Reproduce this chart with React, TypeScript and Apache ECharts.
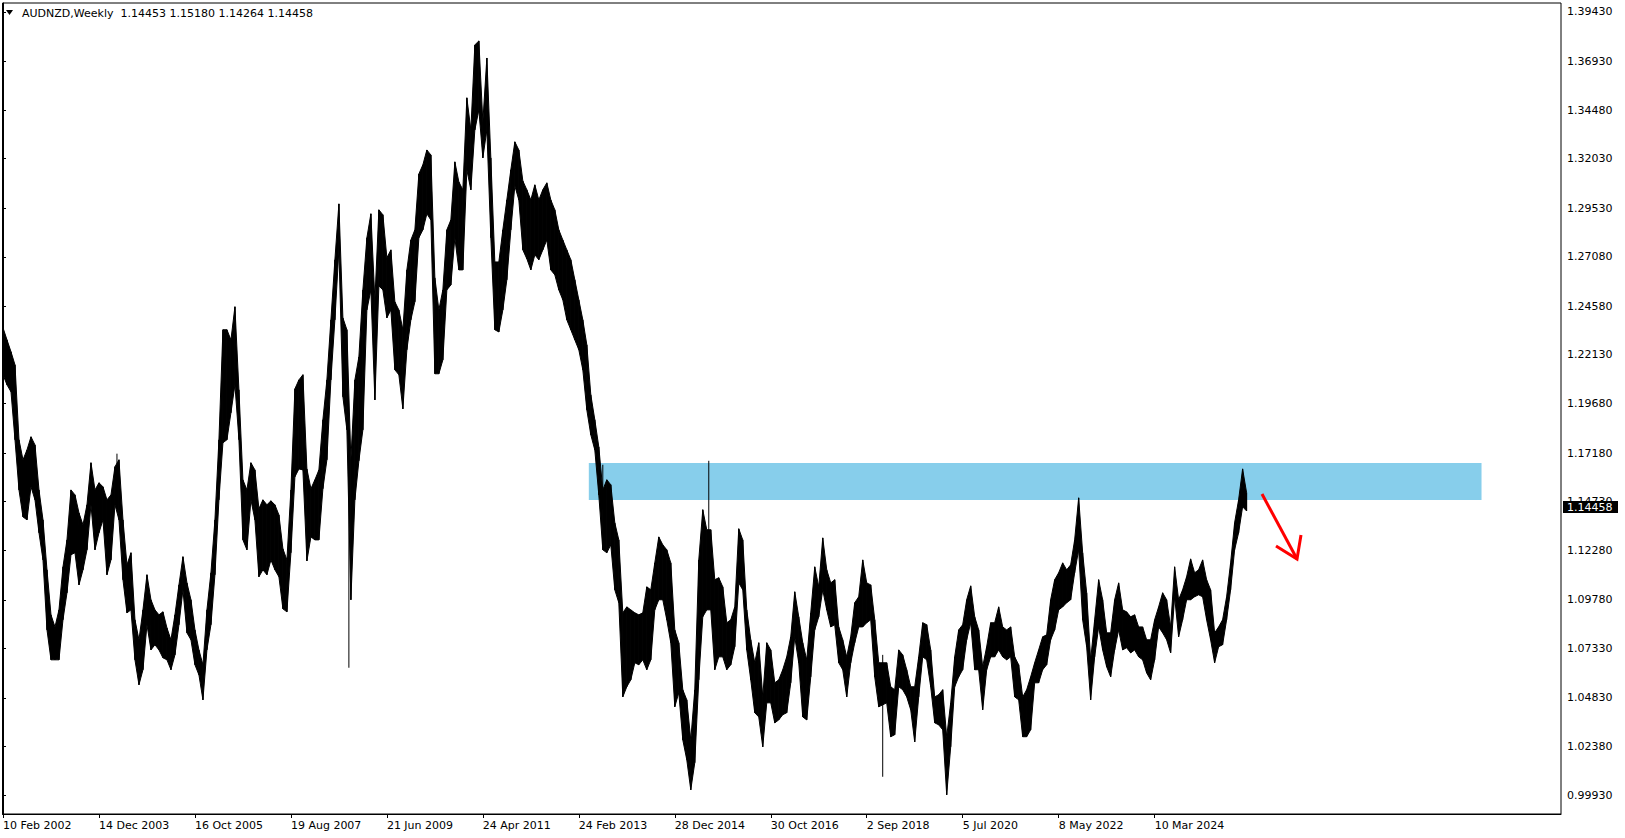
import React, { useEffect, useRef } from "react";
import * as echarts from "echarts";

const symbolName = "AUDNZD,Weekly";
const headerQuote = [1.14453, 1.1518, 1.14264, 1.14458];
const lastPrice = 1.14458;

const yTickLabels = [
  1.3943, 1.3693, 1.3448, 1.3203, 1.2953, 1.2708, 1.2458, 1.2213, 1.1968,
  1.1718, 1.1473, 1.1228, 1.0978, 1.0733, 1.0483, 1.0238, 0.9993,
];

const dateLabels = [
  "10 Feb 2002", "14 Dec 2003", "16 Oct 2005", "19 Aug 2007", "21 Jun 2009",
  "24 Apr 2011", "24 Feb 2013", "28 Dec 2014", "30 Oct 2016", "2 Sep 2018",
  "5 Jul 2020", "8 May 2022", "10 Mar 2024",
];
const dateTickWeeks = [0, 96, 192, 288, 384, 480, 576, 672, 768, 864, 960, 1056, 1152];

// one sample every 4 weekly bars, weeks counted from 10 Feb 2002
const sampleStepWeeks = 4;

const highs = [
  1.2350, 1.2289, 1.2229, 1.2163, 1.1785, 1.1684, 1.1734, 1.1800, 1.1759, 1.1532,
  1.1381, 1.1129, 1.0902, 1.0841, 1.0927, 1.1144, 1.1280, 1.1532, 1.1507, 1.1416,
  1.1356, 1.1457, 1.1669, 1.1532, 1.1568, 1.1548, 1.1482, 1.1507, 1.1649, 1.1684,
  1.1381, 1.1154, 1.1215, 1.0877, 1.0776, 1.0927, 1.1104, 1.0978, 1.0927, 1.0902,
  1.0917, 1.0836, 1.0776, 1.0902, 1.1053, 1.1195, 1.1063, 1.0978, 1.0826, 1.0725,
  1.0650, 1.0927, 1.1114, 1.1381, 1.1785, 1.2340, 1.2340, 1.2289, 1.2456, 1.2037,
  1.1583, 1.1532, 1.1669, 1.1633, 1.1437, 1.1482, 1.1457, 1.1477, 1.1457, 1.1406,
  1.1235, 1.1179, 1.1532, 1.2042, 1.2087, 1.2113, 1.1638, 1.1538, 1.1583, 1.1633,
  1.1886, 1.2087, 1.2390, 1.2693, 1.2975, 1.2400, 1.2340, 1.1684, 1.2087, 1.2203,
  1.2541, 1.2804, 1.2925, 1.2491, 1.2945, 1.2920, 1.2703, 1.2743, 1.2481, 1.2440,
  1.2340, 1.2642, 1.2793, 1.2844, 1.3126, 1.3172, 1.3247, 1.3222, 1.2602, 1.2440,
  1.2541, 1.2844, 1.2894, 1.3187, 1.3086, 1.3046, 1.3510, 1.3348, 1.3777, 1.3797,
  1.3389, 1.3711, 1.3207, 1.2682, 1.2682, 1.2844, 1.2995, 1.3147, 1.3288, 1.3247,
  1.3091, 1.3046, 1.2995, 1.3071, 1.2995, 1.3046, 1.3081, 1.2995, 1.2945, 1.2844,
  1.2793, 1.2743, 1.2693, 1.2592, 1.2491, 1.2390, 1.2264, 1.2012, 1.1886, 1.1749,
  1.1532, 1.1583, 1.1558, 1.1366, 1.1280, 1.0912, 1.0942, 1.0927, 1.0912, 1.0902,
  1.0912, 1.1043, 1.1028, 1.1164, 1.1295, 1.1255, 1.1230, 1.1164, 1.0826, 1.0761,
  1.0524, 1.0473, 1.0271, 1.0524, 1.1179, 1.1432, 1.1331, 1.1331, 1.1079, 1.1089,
  1.1043, 1.0862, 1.0877, 1.0942, 1.1336, 1.1280, 1.0927, 1.0776, 1.0660, 1.0761,
  1.0488, 1.0761, 1.0725, 1.0559, 1.0574, 1.0625, 1.0690, 1.0791, 1.1018, 1.0892,
  1.0761, 1.0675, 1.0912, 1.1144, 1.1043, 1.1290, 1.1129, 1.1063, 1.1079, 1.0841,
  1.0776, 1.0690, 1.0791, 1.0963, 1.0993, 1.1179, 1.1063, 1.1053, 1.0877, 1.0660,
  1.0660, 1.0660, 1.0539, 1.0524, 1.0725, 1.0700, 1.0625, 1.0539, 1.0539, 1.0690,
  1.0862, 1.0852, 1.0725, 1.0488, 1.0499, 1.0524, 1.0287, 1.0458, 1.0690, 1.0826,
  1.0852, 1.0978, 1.1048, 1.0892, 1.0826, 1.0640, 1.0741, 1.0862, 1.0862, 1.0942,
  1.0841, 1.0826, 1.0841, 1.0690, 1.0650, 1.0488, 1.0524, 1.0589, 1.0660, 1.0725,
  1.0791, 1.0801, 1.0978, 1.1079, 1.1114, 1.1164, 1.1129, 1.1154, 1.1280, 1.1492,
  1.1215, 1.1013, 1.0675, 1.0877, 1.1079, 1.0978, 1.0811, 1.0811, 1.0978, 1.1063,
  1.0927, 1.0917, 1.0892, 1.0902, 1.0841, 1.0841, 1.0776, 1.0776, 1.0877, 1.0942,
  1.1013, 1.0978, 1.0841, 1.1144, 1.0978, 1.1028, 1.1094, 1.1184, 1.1114, 1.1129,
  1.1179, 1.1079, 1.1028, 1.0811, 1.0841, 1.0877, 1.0993, 1.1164, 1.1366, 1.1482,
  1.1638, 1.1518,
];

const lows = [
  1.2113, 1.2062, 1.2027, 1.1785, 1.1532, 1.1396, 1.1381, 1.1548, 1.1482, 1.1316,
  1.1179, 1.0826, 1.0675, 1.0675, 1.0675, 1.0877, 1.1013, 1.1205, 1.1215, 1.1053,
  1.1129, 1.1230, 1.1457, 1.1230, 1.1316, 1.1381, 1.1104, 1.1179, 1.1457, 1.1381,
  1.1079, 1.0912, 1.0927, 1.0675, 1.0549, 1.0625, 1.0852, 1.0725, 1.0751, 1.0725,
  1.0685, 1.0675, 1.0625, 1.0700, 1.0852, 1.1028, 1.0811, 1.0776, 1.0650, 1.0599,
  1.0473, 1.0725, 1.0852, 1.1104, 1.1482, 1.1770, 1.1785, 1.1921, 1.2062, 1.1785,
  1.1280, 1.1230, 1.1482, 1.1381, 1.1094, 1.1129, 1.1104, 1.1179, 1.1129, 1.1094,
  1.0932, 1.0917, 1.1215, 1.1598, 1.1638, 1.1633, 1.1174, 1.1295, 1.1280, 1.1280,
  1.1538, 1.1684, 1.2087, 1.2390, 1.2743, 1.2002, 1.1835, 1.0978, 1.1482, 1.1679,
  1.1835, 1.2440, 1.2541, 1.1986, 1.2561, 1.2541, 1.2400, 1.2440, 1.2138, 1.2113,
  1.1941, 1.2239, 1.2390, 1.2481, 1.2804, 1.2844, 1.2925, 1.2894, 1.2118, 1.2118,
  1.2188, 1.2541, 1.2566, 1.2804, 1.2642, 1.2642, 1.3147, 1.3046, 1.3348, 1.3449,
  1.3207, 1.3348, 1.2804, 1.2340, 1.2329, 1.2440, 1.2592, 1.2844, 1.3066, 1.2995,
  1.2743, 1.2698, 1.2642, 1.2718, 1.2693, 1.2743, 1.2793, 1.2642, 1.2617, 1.2541,
  1.2491, 1.2390, 1.2340, 1.2289, 1.2239, 1.2138, 1.1936, 1.1810, 1.1734, 1.1507,
  1.1230, 1.1215, 1.1255, 1.1028, 1.0963, 1.0488, 1.0539, 1.0574, 1.0660, 1.0650,
  1.0675, 1.0625, 1.0675, 1.0927, 1.0978, 1.0978, 1.0877, 1.0761, 1.0438, 1.0509,
  1.0271, 1.0171, 1.0019, 1.0156, 1.0574, 1.0892, 1.0927, 1.0927, 1.0625, 1.0690,
  1.0690, 1.0625, 1.0650, 1.0741, 1.1063, 1.1028, 1.0725, 1.0574, 1.0408, 1.0387,
  1.0236, 1.0458, 1.0458, 1.0357, 1.0372, 1.0398, 1.0408, 1.0559, 1.0791, 1.0660,
  1.0387, 1.0372, 1.0589, 1.0826, 1.0892, 1.1028, 1.0927, 1.0841, 1.0852, 1.0660,
  1.0625, 1.0488, 1.0660, 1.0761, 1.0841, 1.0841, 1.0862, 1.0877, 1.0589, 1.0438,
  1.0448, 1.0458, 1.0287, 1.0297, 1.0539, 1.0524, 1.0488, 1.0423, 1.0261, 1.0488,
  1.0690, 1.0675, 1.0539, 1.0357, 1.0347, 1.0322, 0.9994, 1.0236, 1.0539, 1.0589,
  1.0625, 1.0776, 1.0862, 1.0625, 1.0625, 1.0423, 1.0625, 1.0690, 1.0690, 1.0725,
  1.0690, 1.0675, 1.0690, 1.0488, 1.0473, 1.0287, 1.0287, 1.0322, 1.0559, 1.0559,
  1.0625, 1.0650, 1.0776, 1.0826, 1.0927, 1.0942, 1.0963, 1.0978, 1.1114, 1.1230,
  1.0877, 1.0741, 1.0473, 1.0690, 1.0841, 1.0725, 1.0640, 1.0589, 1.0725, 1.0826,
  1.0725, 1.0736, 1.0710, 1.0725, 1.0690, 1.0675, 1.0609, 1.0574, 1.0675, 1.0841,
  1.0811, 1.0776, 1.0710, 1.0993, 1.0791, 1.0877, 1.0978, 1.0978, 1.0993, 1.1003,
  1.0993, 1.0877, 1.0776, 1.0660, 1.0741, 1.0751, 1.0877, 1.1028, 1.1230, 1.1316,
  1.1447, 1.1426,
];

// single-week wicks that stick out of the sampled envelope
const spikeWeeks = [114, 346, 600, 706, 880];
const spikeHighs = [1.1715, 1.1835, 1.1659, 1.1679, 1.07];
const spikeLows = [1.1532, 1.0635, 1.1432, 1.129, 1.0085];

// supply zone rectangle
const zoneStartWeek = 586;
const zoneEndWeek = 1479;
const zoneTop = 1.16682;
const zoneBottom = 1.14816;

const FONT = "DejaVu Sans";

export default function App() {
  const ref = useRef<HTMLDivElement>(null);

  useEffect(() => {
    const el = ref.current;
    if (!el) return;
    const chart = echarts.init(el, undefined, { renderer: "svg" });

    const weeks = highs.map((_, i) => i * sampleStepWeeks);
    const priceData = weeks.map((w, i) => [w, highs[i], lows[i]]);
    const spikeData = spikeWeeks.map((w, i) => [w, spikeHighs[i], spikeLows[i]]);

    chart.setOption({
      animation: false,
      backgroundColor: "#ffffff",
      grid: {
        left: 2,
        top: 3,
        right: 64,
        bottom: 24,
        show: true,
        borderColor: "#000000",
        borderWidth: 1,
        backgroundColor: "transparent",
      },
      xAxis: {
        type: "value",
        min: -0.5,
        max: 1558.5,
        position: "bottom",
        axisLine: { show: true, lineStyle: { color: "#000000", width: 1 } },
        axisTick: {
          show: true,
          customValues: dateTickWeeks,
          length: 4,
          lineStyle: { color: "#000000" },
        },
        axisLabel: {
          customValues: dateTickWeeks,
          formatter: (v: number) => {
            const k = dateTickWeeks.indexOf(Math.round(v));
            return k >= 0 ? dateLabels[k] : "";
          },
          align: "left",
          margin: 6,
          color: "#000000",
          fontFamily: FONT,
          fontSize: 11,
        },
        splitLine: { show: false },
      },
      yAxis: {
        type: "value",
        position: "right",
        min: 0.98972,
        max: 1.39884,
        axisLine: { show: true, lineStyle: { color: "#000000", width: 1 } },
        axisTick: {
          show: true,
          customValues: yTickLabels,
          length: 3,
          lineStyle: { color: "#000000" },
        },
        axisLabel: {
          customValues: yTickLabels,
          formatter: (v: number) => v.toFixed(5),
          margin: 6,
          color: "#000000",
          fontFamily: FONT,
          fontSize: 11,
        },
        splitLine: { show: false },
      },
      series: [
        {
          type: "custom",
          name: "zone",
          z: 1,
          silent: true,
          data: [[zoneStartWeek, zoneTop, zoneEndWeek, zoneBottom]],
          encode: { x: [0, 2], y: [1, 3] },
          renderItem: (_p: any, api: any) => {
            const a = api.coord([api.value(0), api.value(1)]);
            const b = api.coord([api.value(2), api.value(3)]);
            return {
              type: "rect",
              shape: { x: a[0], y: a[1], width: b[0] - a[0], height: b[1] - a[1] },
              style: { fill: "#87CEEB" },
            };
          },
        },
        {
          type: "custom",
          name: "AUDNZD",
          z: 2,
          silent: true,
          clip: true,
          data: priceData,
          encode: { x: 0, y: [1, 2] },
          renderItem: (params: any, api: any) => {
            const i = params.dataIndex;
            const h0 = api.coord([weeks[i], highs[i]]);
            const l0 = api.coord([weeks[i], lows[i]]);
            if (i >= weeks.length - 1) {
              return {
                type: "line",
                shape: { x1: h0[0], y1: h0[1], x2: l0[0], y2: l0[1] },
                style: { stroke: "#000000", lineWidth: 1 },
              };
            }
            const h1 = api.coord([weeks[i + 1], highs[i + 1]]);
            const l1 = api.coord([weeks[i + 1], lows[i + 1]]);
            return {
              type: "polygon",
              shape: { points: [h0, h1, l1, l0] },
              style: { fill: "#000000", stroke: "#000000", lineWidth: 1 },
            };
          },
        },
        {
          type: "custom",
          name: "wicks",
          z: 3,
          silent: true,
          clip: true,
          data: spikeData,
          encode: { x: 0, y: [1, 2] },
          renderItem: (_p: any, api: any) => {
            const a = api.coord([api.value(0), api.value(1)]);
            const b = api.coord([api.value(0), api.value(2)]);
            return {
              type: "line",
              shape: { x1: a[0], y1: a[1], x2: b[0], y2: b[1] },
              style: { stroke: "#000000", lineWidth: 1 },
            };
          },
        },
      ],
    });

    const yPix = chart.convertToPixel({ yAxisIndex: 0 }, lastPrice) as number;
    const headerText = `${symbolName}  ${headerQuote.map((v) => v.toFixed(5)).join(" ")}`;

    chart.setOption({
      graphic: [
        {
          type: "polygon",
          z: 100,
          shape: { points: [[6, 10], [13, 10], [9.5, 15]] },
          style: { fill: "#000000" },
        },
        {
          type: "text",
          z: 100,
          x: 22,
          y: 13,
          style: {
            text: headerText,
            fill: "#000000",
            font: `11px "${FONT}"`,
            verticalAlign: "middle",
            align: "left",
          },
        },
        {
          type: "rect",
          z: 100,
          shape: { x: 1563, y: Math.round(yPix) - 6, width: 55, height: 12 },
          style: { fill: "#000000" },
        },
        {
          type: "text",
          z: 101,
          x: 1567,
          y: Math.round(yPix),
          style: {
            text: lastPrice.toFixed(5),
            fill: "#ffffff",
            font: `11px "${FONT}"`,
            verticalAlign: "middle",
            align: "left",
          },
        },
        {
          type: "polyline",
          z: 100,
          shape: { points: [[1262, 494], [1297, 559]] },
          style: { stroke: "#ff0000", lineWidth: 3, fill: "none" },
        },
        {
          type: "polyline",
          z: 100,
          shape: { points: [[1276, 546], [1297, 559], [1301, 535]] },
          style: { stroke: "#ff0000", lineWidth: 3, fill: "none" },
        },
      ],
    });

    return () => {
      chart.dispose();
    };
  }, []);

  return (
    <div
      ref={ref}
      style={{
        position: "absolute",
        left: 0,
        top: 0,
        width: 1625,
        height: 838,
        background: "#ffffff",
      }}
    />
  );
}
